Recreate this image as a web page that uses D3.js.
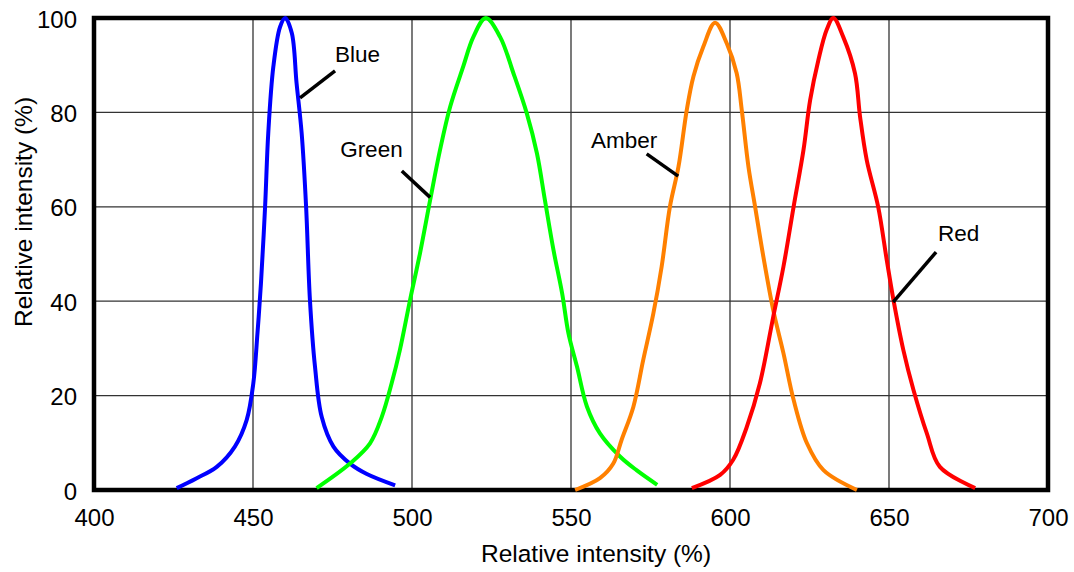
<!DOCTYPE html>
<html>
  <head>
    <meta charset="utf-8">
    <title>LED spectra</title>
    <script src="https://d3js.org/d3.v7.min.js"></script>
    <style>
      body { margin: 0; background: #fff; }
      text { font-family: "Liberation Sans", Arial, Helvetica, sans-serif; fill: #000; }
    </style>
  </head>
  <body>
    <svg id="chart"></svg>
    <script>
// tick values
var xTicks = [400, 450, 500, 550, 600, 650, 700];
var yTicks = [0, 20, 40, 60, 80, 100];

// wavelength (nm) / relative intensity (%)
var blueX = [426, 432, 438.6, 444.3, 448, 450.1, 451.4, 452.5, 453.8, 454.8, 456.4, 458.5, 460.1, 462.2, 463.7, 465.3, 466.7, 467.9, 469.5, 471.6, 475.3, 480.5, 485.8, 494.7];
var blueY = [0.4, 2.4, 4.9, 9.2, 14.8, 22.6, 33.2, 43.8, 60, 75.6, 89.7, 98.1, 100, 96.8, 86.2, 75.6, 60, 40.3, 26.1, 15.5, 9.2, 5.6, 3.4, 1.0];

var greenX = [470, 480.5, 486.8, 490.5, 493.6, 496.2, 499.4, 502.5, 505.7, 508.8, 512, 516.1, 519.3, 523.2, 527.7, 531.9, 536.1, 539.3, 541.8, 544.5, 547.2, 549.2, 551.9, 555, 559.1, 565.4, 570.6, 577.1];
var greenY = [0.4, 5.6, 9.9, 15.5, 22.6, 29.7, 40.3, 50.1, 61.4, 72, 81.2, 89.7, 96, 100, 96, 88.3, 79.8, 71.3, 61.4, 50.8, 41.7, 33.2, 26.1, 17.7, 12, 7.1, 4.2, 1.1];

var amberX = [551.3, 559.1, 563.3, 565.9, 569.6, 572.7, 575.9, 578.5, 581.1, 583.8, 586.4, 588.5, 591.6, 595.3, 599, 602.1, 603.7, 605.8, 607.9, 610.5, 613.6, 616.8, 620, 624.2, 629.4, 639.9];
var amberY = [0, 2.5, 5.6, 10.6, 17.6, 27.5, 37.4, 47.3, 60, 68.5, 80.5, 87.6, 93.9, 99, 94.6, 88.3, 80.5, 68.5, 60, 49.4, 38.1, 29, 19.1, 9.9, 4.2, 0];

var redX = [588, 596.9, 601, 605.3, 609.4, 613.6, 616.8, 620, 623.1, 625.2, 627.8, 630.4, 632.5, 635.6, 639.3, 640.9, 643, 646.6, 649.3, 651.4, 654.5, 657.7, 661.9, 666, 677.1];
var redY = [0.4, 3.2, 6.4, 13.4, 22.6, 36.7, 47.3, 60, 72, 82.6, 91.1, 97.5, 100, 96, 88.3, 79.1, 69.9, 60, 48.7, 40.3, 29.7, 21.2, 12, 4.9, 0.4];

// curve labels: text, label anchor (nm, %), leader line from/to (nm, %)
var labelNames = ["Blue", "Green", "Amber", "Red"];
var labelAt = [[475.8, 90.7], [477.4, 70.6], [556.3, 72.5], [665.4, 52.8]];
var leaderFrom = [[475.8, 88.8], [496.8, 67.6], [573.8, 71.2], [664.8, 50.4]];
var leaderTo = [[464.8, 83.1], [505.7, 62], [583.7, 66.5], [651.3, 39.8]];

var margin = { top: 18, right: 26, bottom: 82, left: 94 };
var width = 1074 - margin.left - margin.right;
var height = 572 - margin.top - margin.bottom;

var svg = d3.select("#chart")
  .attr("width", 1074)
  .attr("height", 572)
  .append("g")
  .attr("transform", "translate(" + margin.left + "," + margin.top + ")");

var x = d3.scaleLinear().domain([400, 700]).range([0, width]);
var y = d3.scaleLinear().domain([0, 100]).range([height, 0]);

// grid
svg.append("g")
  .selectAll("line.vgrid")
  .data(xTicks.slice(1, -1))
  .enter().append("line")
  .attr("x1", function(d) { return x(d); })
  .attr("x2", function(d) { return x(d); })
  .attr("y1", 0)
  .attr("y2", height)
  .style("stroke", "#333")
  .style("stroke-width", 1.3);

svg.append("g")
  .selectAll("line.hgrid")
  .data(yTicks.slice(1, -1))
  .enter().append("line")
  .attr("x1", 0)
  .attr("x2", width)
  .attr("y1", function(d) { return y(d); })
  .attr("y2", function(d) { return y(d); })
  .style("stroke", "#333")
  .style("stroke-width", 1.3);

// axes (labels only, frame drawn separately)
var xAxis = svg.append("g")
  .attr("transform", "translate(0," + height + ")")
  .call(d3.axisBottom(x).tickValues(xTicks).tickSize(0).tickPadding(19));
var yAxis = svg.append("g")
  .call(d3.axisLeft(y).tickValues(yTicks).tickSize(0).tickPadding(17));
svg.selectAll(".domain").remove();
svg.selectAll(".tick text")
  .style("font-family", '"Liberation Sans", Arial, sans-serif')
  .style("font-size", "24px")
  .style("fill", "#000");
yAxis.selectAll(".tick text").attr("dy", "0.38em");

// frame
svg.append("rect")
  .attr("x", 0)
  .attr("y", 0)
  .attr("width", width)
  .attr("height", height)
  .style("fill", "none")
  .style("stroke", "#000")
  .style("stroke-width", 4.5);

// curves
var line = d3.line()
  .x(function(d) { return x(d[0]); })
  .y(function(d) { return y(d[1]); })
  .curve(d3.curveCatmullRom.alpha(0.5));

var series = [
  { xs: blueX, ys: blueY, color: "#0000ff" },
  { xs: greenX, ys: greenY, color: "#00ff00" },
  { xs: amberX, ys: amberY, color: "#ff8000" },
  { xs: redX, ys: redY, color: "#ff0000" }
];

series.forEach(function(s) {
  svg.append("path")
    .datum(d3.zip(s.xs, s.ys))
    .attr("d", line)
    .style("fill", "none")
    .style("stroke", s.color)
    .style("stroke-width", 4)
    .style("stroke-linejoin", "round");
});

// leader lines + labels
labelNames.forEach(function(name, i) {
  svg.append("line")
    .attr("x1", x(leaderFrom[i][0]))
    .attr("y1", y(leaderFrom[i][1]))
    .attr("x2", x(leaderTo[i][0]))
    .attr("y2", y(leaderTo[i][1]))
    .style("stroke", "#000")
    .style("stroke-width", 3.5);
  svg.append("text")
    .attr("x", x(labelAt[i][0]))
    .attr("y", y(labelAt[i][1]))
    .style("font-size", "22.5px")
    .text(name);
});

// axis titles
svg.append("text")
  .attr("x", 596 - margin.left)
  .attr("y", height + 72)
  .attr("text-anchor", "middle")
  .style("font-size", "24.5px")
  .text("Relative intensity (%)");

svg.append("text")
  .attr("transform", "rotate(-90)")
  .attr("x", -(212 - margin.top))
  .attr("y", 32 - margin.left)
  .attr("text-anchor", "middle")
  .style("font-size", "24.5px")
  .text("Relative intensity (%)");
    </script>
  </body>
</html>
